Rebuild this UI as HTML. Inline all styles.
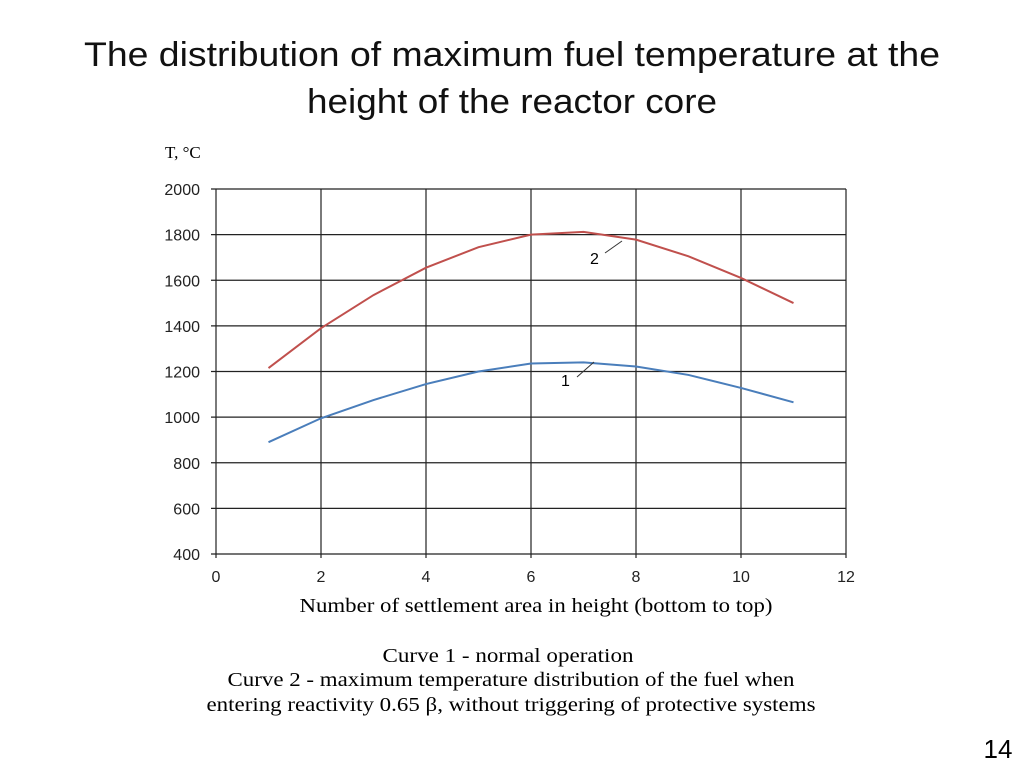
<!DOCTYPE html>
<html><head><meta charset="utf-8"><style>
body{margin:0;width:1024px;height:768px;background:#fff;overflow:hidden;position:relative;font-family:"Liberation Sans",sans-serif}
.serif{font-family:"Liberation Serif",serif}
</style></head><body>
<svg width="1024" height="768" style="position:absolute;left:0;top:0">
<text x="512" y="66" font-size="34" text-anchor="middle" textLength="856" lengthAdjust="spacingAndGlyphs" fill="#111">The distribution of maximum fuel temperature at the</text>
<text x="512" y="113" font-size="34" text-anchor="middle" textLength="410" lengthAdjust="spacingAndGlyphs" fill="#111">height of the reactor core</text>
<g id="grid"></g><g id="lines"></g>
<text x="165" y="158" class="serif" font-size="17">T, °C</text>
<text x="536" y="612" class="serif" font-size="20" text-anchor="middle" textLength="473" lengthAdjust="spacingAndGlyphs">Number of settlement area in height (bottom to top)</text>
<text x="590" y="264" font-size="16">2</text>
<line x1="605" y1="253" x2="622" y2="241" stroke="#333"/>
<text x="561" y="386" font-size="16">1</text>
<line x1="577" y1="377" x2="594" y2="362" stroke="#333"/>
<text x="508" y="662" class="serif" font-size="20" text-anchor="middle" textLength="251" lengthAdjust="spacingAndGlyphs">Curve 1 - normal operation</text>
<text x="511" y="686" class="serif" font-size="20" text-anchor="middle" textLength="567" lengthAdjust="spacingAndGlyphs">Curve 2 - maximum temperature distribution of the fuel when</text>
<text x="511" y="711" class="serif" font-size="20" text-anchor="middle" textLength="609" lengthAdjust="spacingAndGlyphs">entering reactivity 0.65 β, without triggering of protective systems</text>
<text x="998" y="758" font-size="26" text-anchor="middle">14</text>
</svg>
<script>
const xs=[1,2,3,4,5,6,7,8,9,10,11];
const curve1=[890,995,1075,1145,1200,1235,1240,1222,1185,1128,1065];
const curve2=[1215,1390,1535,1655,1745,1800,1812,1778,1705,1610,1500];
const xTicks=[0,2,4,6,8,10,12];
const yTicks=[400,600,800,1000,1200,1400,1600,1800,2000];
const X=v=>216+(v-0)*(846-216)/12, Y=v=>554-(v-400)*(554-189)/1600;
const NS='http://www.w3.org/2000/svg';
const g=document.getElementById('grid'), L=document.getElementById('lines');
function mk(p,tag,a){const e=document.createElementNS(NS,tag);for(const k in a)e.setAttribute(k,a[k]);p.appendChild(e);return e;}
xTicks.forEach(t=>{
 const l=mk(g,'line',{x1:X(t),x2:X(t),y1:189,y2:558,stroke:'#222','stroke-width':1.2});
 
 
 const tx=mk(g,'text',{x:X(t),y:582,'font-size':16,'text-anchor':'middle',fill:'#222'});tx.textContent=t;
 
 
});
yTicks.forEach(t=>{
 const l=mk(g,'line',{x1:211,x2:846,y1:Y(t),y2:Y(t),stroke:'#222','stroke-width':1.2});
 
 
 const tx=mk(g,'text',{x:200,y:Y(t)+6,'font-size':16,'text-anchor':'end',fill:'#222'});tx.textContent=t;
 
 
});
[[curve1,'#4a7ebb','curve-1-line'],[curve2,'#c0504d','curve-2-line']].forEach(([d,c,n])=>{
 const p=mk(L,'polyline',{points:xs.map((x,i)=>X(x)+','+Y(d[i])).join(' '),fill:'none',stroke:c,'stroke-width':2});
 
 
});
</script>
</body></html>
